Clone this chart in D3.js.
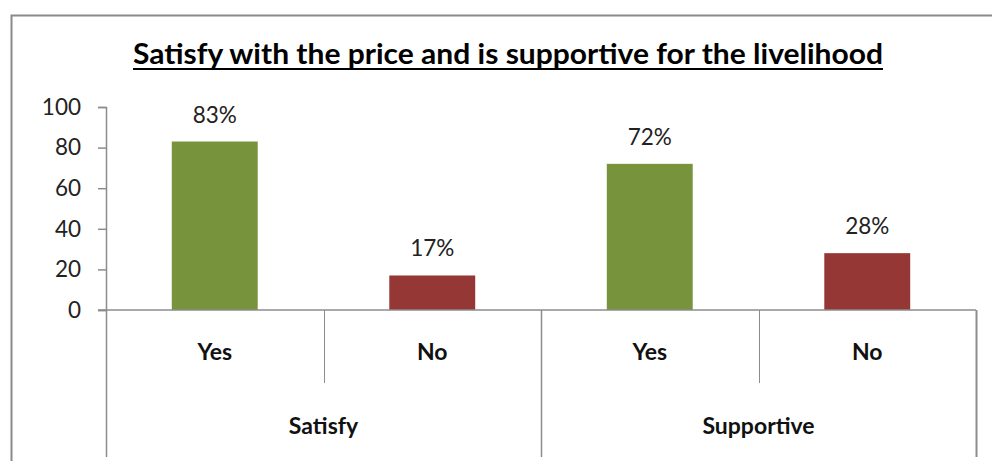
<!DOCTYPE html>
<html>
<head>
<meta charset="utf-8">
<script src="https://cdn.jsdelivr.net/npm/d3@7"></script>
<style>
  html, body { margin: 0; padding: 0; background: #fff; }
  svg { display: block; font-family: Lato, "Open Sans", sans-serif; }
</style>
</head>
<body>
<svg id="chart" width="992" height="461"></svg>
<script>
// Survey answers, grouped by question
const groups = ["Satisfy", "Supportive"];
const answers = ["Yes", "No"];
const values = [83, 17, 72, 28];          // percent, in group/answer order
const yTicks = [0, 20, 40, 60, 80, 100];
const title = "Satisfy with the price and is supportive for the livelihood";

const barColors = { Yes: "#77933C", No: "#953735" };
const axisColor = "#8c8c8c";

const svg = d3.select("#chart");

// Flattened bars: one per group × answer
const bars = [];
groups.forEach((g, gi) => answers.forEach((a, ai) => {
  bars.push({ group: g, answer: a, value: values[gi * answers.length + ai], key: gi * answers.length + ai });
}));

const plotLeft = 106, plotRight = 976, plotTop = 107, plotBase = 310;

const x = d3.scaleBand()
  .domain(bars.map(d => d.key))
  .range([plotLeft, plotRight])
  .paddingInner(0.605)
  .paddingOuter(0.3025);

const xGroup = d3.scaleBand()
  .domain(groups)
  .range([plotLeft, plotRight]);

const y = d3.scaleLinear().domain([0, 100]).range([plotBase, plotTop]);

// Outer frame (top and left edges)
svg.append("path")
  .attr("d", `M11.5,461 V15.5 H992`)
  .attr("fill", "none")
  .attr("stroke", "#8a8a8a")
  .attr("stroke-width", 2);

// Title, underlined (condensed to its slot)
svg.append("text")
  .attr("x", 508)
  .attr("y", 64)
  .attr("text-anchor", "middle")
  .attr("font-weight", "bold")
  .attr("font-size", 28)
  .attr("fill", "#000")
  .attr("textLength", 750)
  .attr("lengthAdjust", "spacingAndGlyphs")
  .text(title);
svg.append("line")
  .attr("x1", 508 - 375).attr("x2", 508 + 375)
  .attr("y1", 69).attr("y2", 69)
  .attr("stroke", "#000").attr("stroke-width", 2);

// Y axis
const yAxis = svg.append("g")
  .attr("transform", `translate(${plotLeft},0)`)
  .call(d3.axisLeft(y).tickValues(yTicks).tickSize(8).tickPadding(17));
yAxis.select(".domain").attr("stroke", axisColor).attr("stroke-width", 1.5);
yAxis.selectAll(".tick line").attr("stroke", axisColor).attr("stroke-width", 1.5);
yAxis.selectAll(".tick text")
  .attr("font-family", "Lato, sans-serif")
  .attr("font-size", 22.5)
  .attr("fill", "#222");

// Bars
svg.append("g").selectAll("rect")
  .data(bars)
  .join("rect")
  .attr("x", d => x(d.key))
  .attr("y", d => y(d.value))
  .attr("width", x.bandwidth())
  .attr("height", d => y(0) - y(d.value))
  .attr("fill", d => barColors[d.answer]);

// Value labels
svg.append("g").selectAll("text")
  .data(bars)
  .join("text")
  .attr("x", d => x(d.key) + x.bandwidth() / 2)
  .attr("y", d => y(d.value) - 19)
  .attr("text-anchor", "middle")
  .attr("font-size", 22.5)
  .attr("fill", "#222")
  .text(d => d.value + "%");

// Category axis: baseline, separators and labels
const step = x.step();
const cat = svg.append("g");
cat.append("line")
  .attr("x1", plotLeft - 8).attr("x2", plotRight)
  .attr("y1", plotBase).attr("y2", plotBase)
  .attr("stroke", axisColor).attr("stroke-width", 1.5);

// short separators between answers inside a group
bars.forEach((d, i) => {
  if (i % answers.length !== 0) {
    const sx = Math.round(x(d.key) - x.paddingInner() * step / 2) + 0.5;
    cat.append("line")
      .attr("x1", sx).attr("x2", sx)
      .attr("y1", plotBase).attr("y2", 383)
      .attr("stroke", axisColor).attr("stroke-width", 1);
  }
});
// long separators at group edges
groups.concat(["_end"]).forEach((g, i) => {
  const gx = i < groups.length ? xGroup(g) : plotRight;
  cat.append("line")
    .attr("x1", Math.round(gx) + 0.5).attr("x2", Math.round(gx) + 0.5)
    .attr("y1", plotBase).attr("y2", 457)
    .attr("stroke", axisColor).attr("stroke-width", i === groups.length ? 2 : 1.5);
});

cat.selectAll("text.answer")
  .data(bars)
  .join("text")
  .attr("class", "answer")
  .attr("x", d => x(d.key) + x.bandwidth() / 2)
  .attr("y", 360)
  .attr("text-anchor", "middle")
  .attr("font-weight", "bold")
  .attr("font-size", 23)
  .attr("fill", "#111")
  .text(d => d.answer);

cat.selectAll("text.group")
  .data(groups)
  .join("text")
  .attr("class", "group")
  .attr("x", d => xGroup(d) + xGroup.bandwidth() / 2)
  .attr("y", 434)
  .attr("text-anchor", "middle")
  .attr("font-weight", "bold")
  .attr("font-size", 23)
  .attr("fill", "#111")
  .text(d => d);
</script>
</body>
</html>
